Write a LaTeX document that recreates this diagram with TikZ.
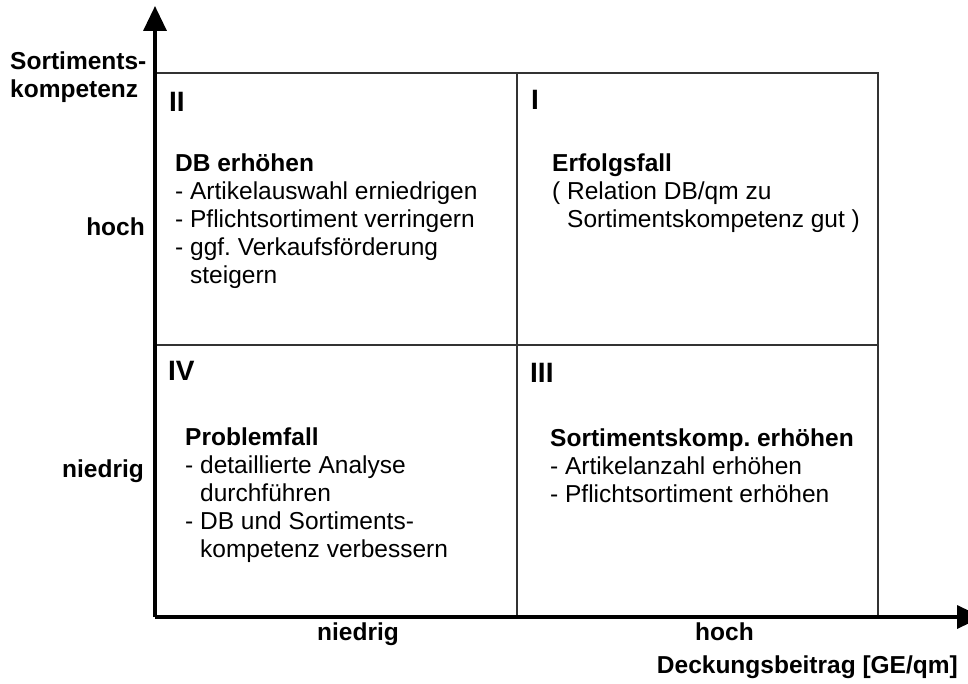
\documentclass[tikz,border=0pt]{standalone}
\usepackage{fontspec}
\setmainfont{Liberation Sans}
\usetikzlibrary{arrows.meta}
\frenchspacing

% text sizes (1 unit = 1pt)
\newcommand{\bodyfont}{\fontsize{24.5}{28}\selectfont}
\newcommand{\numfont}{\fontsize{28}{34}\selectfont\bfseries}
\newcommand{\axfont}{\fontsize{24.5}{28}\selectfont\bfseries}
% left aligned block of lines
\newcommand{\wtext}[1]{\begin{tabular}[t]{@{}l@{}}#1\end{tabular}}
\newcommand{\ind}{\phantom{-~}}

\tikzset{
  axis/.style={line width=3.5, -{Triangle[length=25,width=23]}},
  grid/.style={line width=1.1, draw=black!80},
  txt/.style={anchor=base west, inner sep=0, font=\bodyfont},
  num/.style={anchor=base west, inner sep=0, font=\numfont},
  axlabel/.style={anchor=base west, inner sep=0, font=\axfont},
}

\begin{document}
\begin{tikzpicture}[x=1pt, y=-1pt]
  \useasboundingbox[fill=white] (0,0) rectangle (968,684);

  % reference points
  \coordinate (O) at (155,617);
  \coordinate (ytip) at (155,6);
  \coordinate (xtip) at (982,617);

  % quadrant grid
  \draw[grid] (155,73) -- (878,73) -- (878,617);
  \draw[grid] (517,73) -- (517,617);
  \draw[grid] (155,345) -- (878,345);

  % axes
  \draw[axis] (O) -- (ytip);
  \draw[axis] (O) -- (xtip);

  % quadrant numbers
  \node[num] (nII)  at (169,112) {II};
  \node[num] (nI)   at (531,110) {I};
  \node[num] (nIV)  at (168,380) {IV};
  \node[num] (nIII) at (530,382) {III};

  % quadrant texts
  \node[txt] (qII) at (175,172) {\wtext{\textbf{DB erhöhen}\\
      - Artikelauswahl erniedrigen\\
      - Pflichtsortiment verringern\\
      - ggf. Verkaufsförderung\\
      \ind steigern}};
  \node[txt] (qI) at (552,172) {\wtext{\textbf{Erfolgsfall}\\
      ( Relation DB/qm zu\\
      \phantom{(~}Sortimentskompetenz gut )}};
  \node[txt] (qIV) at (185,445) {\wtext{\textbf{Problemfall}\\
      - detaillierte Analyse\\
      \ind durchführen\\
      - DB und Sortiments-\\
      \ind kompetenz verbessern}};
  \node[txt] (qIII) at (550,446) {\wtext{\textbf{Sortimentskomp. erhöhen}\\
      - Artikelanzahl erhöhen\\
      - Pflichtsortiment erhöhen}};

  % axis labels
  \node[axlabel] (ytitle) at (10,70) {\wtext{Sortiments-\\kompetenz}};
  \node[axlabel, anchor=base east] (yhigh) at (145,236) {hoch};
  \node[axlabel, anchor=base east] (ylow) at (144,477) {niedrig};
  \node[axlabel] (xlow) at (317,640) {niedrig};
  \node[axlabel] (xhigh) at (695,640) {hoch};
  \node[axlabel, anchor=base east] (xtitle) at (958,673) {Deckungsbeitrag [GE/qm]};
\end{tikzpicture}
\end{document}
